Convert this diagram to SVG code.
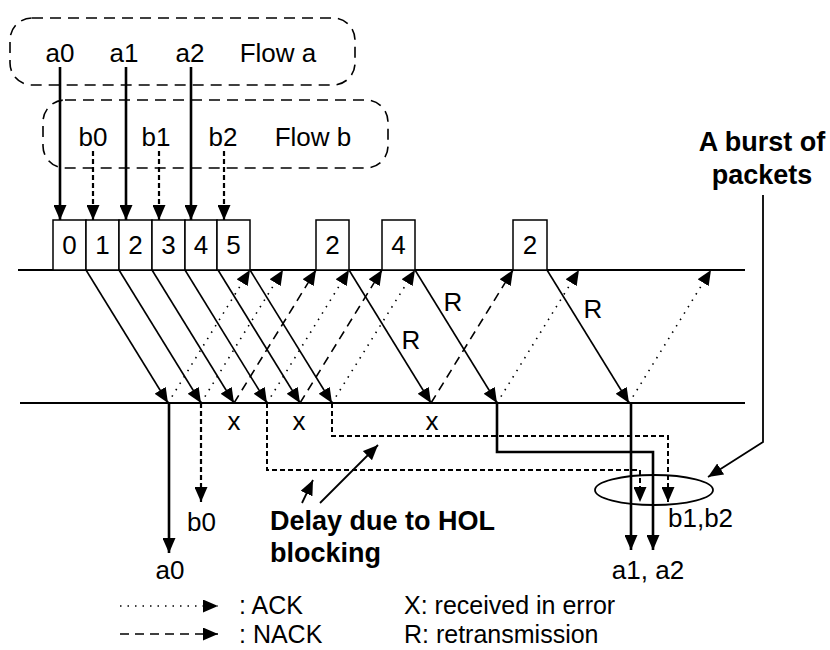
<svg xmlns="http://www.w3.org/2000/svg" width="830" height="650" viewBox="0 0 830 650">
<defs>
<marker id="ah" markerUnits="userSpaceOnUse" markerWidth="16" markerHeight="13" refX="15" refY="6.5" orient="auto" viewBox="0 0 16 13"><path d="M0,0 L15,6.5 L0,13 z" fill="#000"/></marker>
</defs>
<style>
text{font-family:"Liberation Sans",Arial,Helvetica,sans-serif;font-size:26px;fill:#000}
.b{font-weight:bold;font-size:27px}
.m{text-anchor:middle}
.lg{font-size:25px}
.flow{fill:none;stroke:#000;stroke-width:1.6;stroke-dasharray:11 7}
.box{fill:#fff;stroke:#000;stroke-width:1.5}
.axis{stroke:#000;stroke-width:1.8;fill:none}
.data{stroke:#000;stroke-width:1.6;fill:none;marker-end:url(#ah)}
.ack{stroke:#000;stroke-width:1.6;fill:none;stroke-dasharray:1.5 6;marker-end:url(#ah)}
.nack{stroke:#000;stroke-width:1.6;fill:none;stroke-dasharray:9 6;marker-end:url(#ah)}
.thick{stroke:#000;stroke-width:2.6;fill:none;marker-end:url(#ah)}
.bdash{stroke:#000;stroke-width:2.2;fill:none;stroke-dasharray:5 3;marker-end:url(#ah)}
.hol{stroke:#000;stroke-width:2;fill:none;stroke-dasharray:5 3;marker-end:url(#ah)}
.plain{stroke:#000;stroke-width:1.8;fill:none;marker-end:url(#ah)}
</style>
<rect width="830" height="650" fill="#fff"/>

<g id="flow-a">
<rect class="flow" x="10" y="18" width="345" height="67" rx="22"/>
<text class="m" x="60" y="62">a0</text>
<text class="m" x="124" y="62">a1</text>
<text class="m" x="190" y="62">a2</text>
<text class="m" x="278" y="62">Flow a</text>
</g>
<g id="flow-b">
<rect class="flow" x="43" y="100" width="345" height="68" rx="22"/>
<text class="m" x="93" y="146">b0</text>
<text class="m" x="156" y="146">b1</text>
<text class="m" x="223" y="146">b2</text>
<text class="m" x="313" y="146">Flow b</text>
</g>

<g id="sender-line"><line class="axis" x1="18" y1="270" x2="745" y2="270"/></g>
<g id="receiver-line"><line class="axis" x1="20" y1="403" x2="745" y2="403"/></g>

<g id="pkt-0"><rect class="box" x="53" y="220" width="33" height="50"/><text class="m" x="69.5" y="254">0</text></g>
<g id="pkt-1"><rect class="box" x="86" y="220" width="33" height="50"/><text class="m" x="102.5" y="254">1</text></g>
<g id="pkt-2"><rect class="box" x="119" y="220" width="33" height="50"/><text class="m" x="135.5" y="254">2</text></g>
<g id="pkt-3"><rect class="box" x="152" y="220" width="33" height="50"/><text class="m" x="168.5" y="254">3</text></g>
<g id="pkt-4"><rect class="box" x="185" y="220" width="32" height="50"/><text class="m" x="201" y="254">4</text></g>
<g id="pkt-5"><rect class="box" x="217" y="220" width="33" height="50"/><text class="m" x="233.5" y="254">5</text></g>
<g id="retx-2a"><rect class="box" x="316" y="220" width="33" height="50"/><text class="m" x="332.5" y="254">2</text></g>
<g id="retx-4"><rect class="box" x="382" y="220" width="33" height="50"/><text class="m" x="398.5" y="254">4</text></g>
<g id="retx-2b"><rect class="box" x="513" y="220" width="34" height="50"/><text class="m" x="530" y="254">2</text></g>

<g id="connectors">
<line class="thick" x1="60" y1="67" x2="60" y2="220"/>
<line class="thick" x1="126" y1="67" x2="126" y2="220"/>
<line class="thick" x1="191" y1="67" x2="191" y2="220"/>
<line class="bdash" x1="93" y1="151" x2="93" y2="220"/>
<line class="bdash" x1="159" y1="151" x2="159" y2="220"/>
<line class="bdash" x1="224" y1="151" x2="224" y2="220"/>

<line class="data" x1="86" y1="270" x2="168" y2="403"/>
<line class="data" x1="119" y1="270" x2="201" y2="403"/>
<line class="data" x1="152" y1="270" x2="234" y2="403"/>
<line class="data" x1="185" y1="270" x2="267" y2="403"/>
<line class="data" x1="218" y1="270" x2="300" y2="403"/>
<line class="data" x1="250" y1="270" x2="332" y2="403"/>
<line class="data" x1="349" y1="270" x2="431" y2="403"/>
<line class="data" x1="415" y1="270" x2="497" y2="403"/>
<line class="data" x1="547" y1="270" x2="629" y2="403"/>

<line class="ack" x1="168" y1="403" x2="250" y2="270"/>
<line class="ack" x1="201" y1="403" x2="283" y2="270"/>
<line class="nack" x1="234" y1="403" x2="316" y2="270"/>
<line class="ack" x1="267" y1="403" x2="349" y2="270"/>
<line class="nack" x1="300" y1="403" x2="382" y2="270"/>
<line class="ack" x1="332" y1="403" x2="415" y2="270"/>
<line class="nack" x1="431" y1="403" x2="513" y2="270"/>
<line class="ack" x1="497" y1="403" x2="579" y2="270"/>
<line class="ack" x1="629" y1="403" x2="711" y2="270"/>

<line class="thick" x1="169" y1="403" x2="169" y2="553"/>
<line class="bdash" x1="201" y1="403" x2="201" y2="502"/>
<polyline class="hol" points="267,403 267,470 640,470 640,502"/>
<polyline class="hol" points="332,403 332,436 668,436 668,502"/>
<polyline class="thick" points="497,403 497,452 653,452 653,550"/>
<polyline class="thick" points="631,403 631,550"/>

<polyline class="plain" points="763,195 763,442 708,477"/>
<line class="plain" x1="302" y1="503" x2="313" y2="480"/>
<line class="plain" x1="320" y1="503" x2="378" y2="445"/>

<line class="ack" x1="120" y1="606" x2="218" y2="606"/>
<line class="nack" x1="120" y1="634" x2="218" y2="634"/>
</g>

<g id="burst">
<ellipse cx="654" cy="490" rx="59" ry="15" fill="none" stroke="#000" stroke-width="1.8"/>
</g>

<g id="labels">
<text class="m" x="453" y="311">R</text>
<text class="m" x="411" y="349">R</text>
<text class="m" x="593" y="318">R</text>
<text class="m" x="234" y="430">x</text>
<text class="m" x="299" y="430">x</text>
<text class="m" x="432" y="430">x</text>
<text x="187" y="531">b0</text>
<text class="m" x="170" y="579">a0</text>
<text class="m" x="648" y="579">a1, a2</text>
<text x="668" y="527">b1,b2</text>
<text class="b" x="270" y="530">Delay due to HOL</text>
<text class="b" x="270" y="562">blocking</text>
<text class="b m" x="762" y="151">A burst of</text>
<text class="b m" x="762" y="184">packets</text>
<text class="lg" x="239" y="614">: ACK</text>
<text class="lg" x="239" y="643">: NACK</text>
<text class="lg" x="404" y="614">X: received in error</text>
<text class="lg" x="404" y="643">R: retransmission</text>
</g>
</svg>
